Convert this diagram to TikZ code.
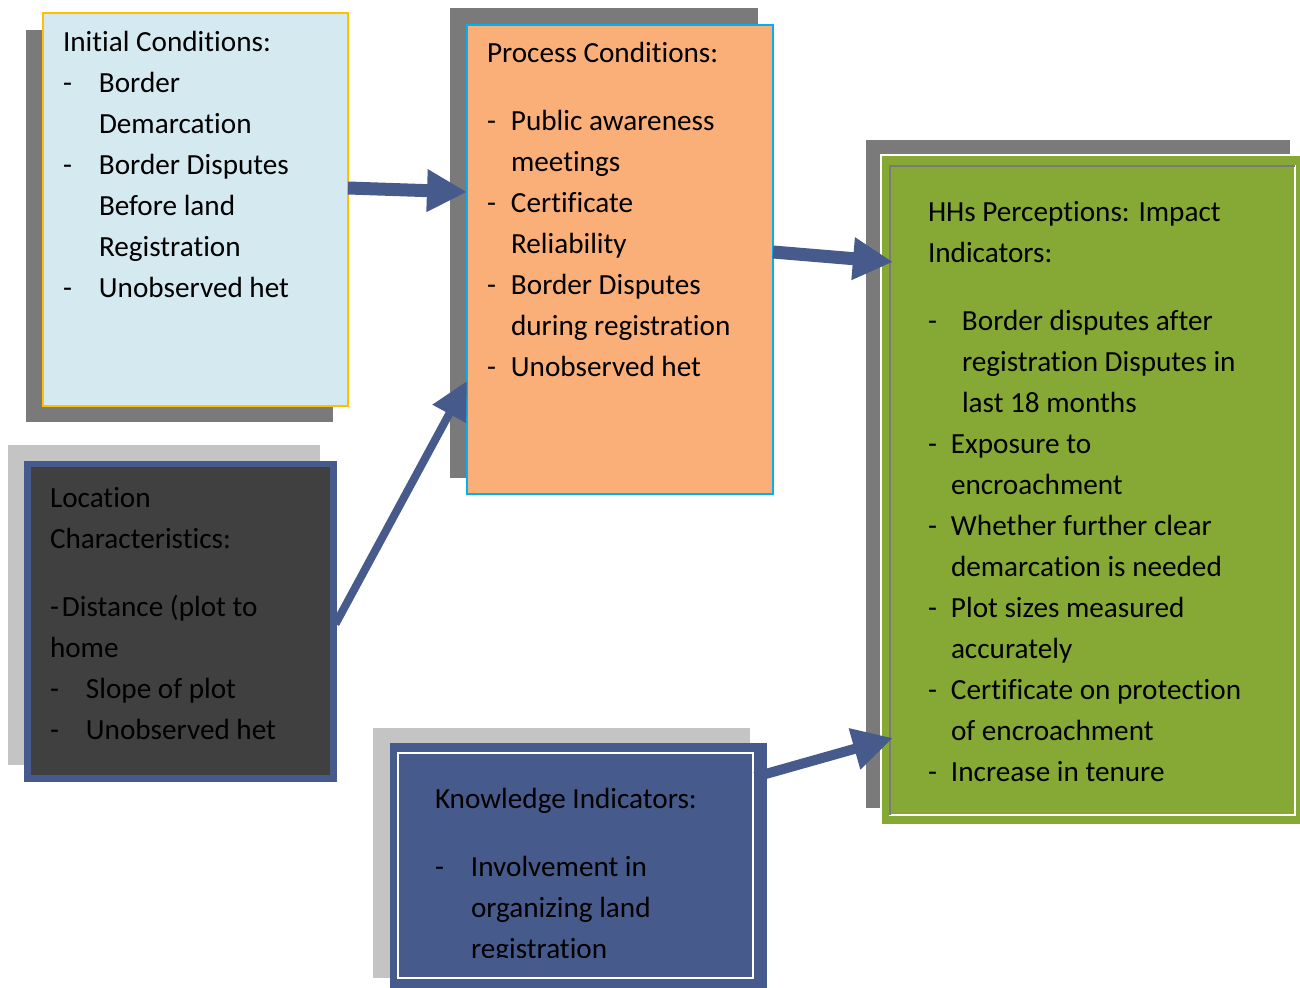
\documentclass[tikz,border=0pt]{standalone}
\usepackage{fontspec}
\setmainfont{Carlito}[Ligatures={NoCommon,NoRequired,NoContextual}]
\usetikzlibrary{arrows.meta,calc}
\newlength\px \setlength\px{0.75pt}
\definecolor{navy}{HTML}{475A8C}
\definecolor{shdark}{HTML}{7A7A7A}
\definecolor{shlight}{HTML}{C4C4C4}
\definecolor{lblue}{HTML}{D4EAF0}
\definecolor{peach}{HTML}{FAAE78}
\definecolor{hhgreen}{HTML}{85A934}
\definecolor{dgray}{HTML}{404040}
\definecolor{ocborder}{HTML}{FFC000}
\definecolor{cyborder}{HTML}{00B0F0}
\newcommand\bx[1]{\makebox[#1\px][l]{-}}
\begin{document}
\begin{tikzpicture}[x=0.75pt,y=-0.75pt,
  panel/.style={rectangle, inner sep=0pt, outer sep=0pt, anchor=north west},
  txt/.style={anchor=base west, inner sep=0pt, outer sep=0pt, font=\fontsize{21.9}{30.75}\selectfont, text=black},
  link/.style={draw=navy, fill=navy}]
\useasboundingbox (0,0) rectangle (1300,988);
\fill[white] (0,0) rectangle (1300,988);

% Initial conditions
\node[panel, fill=shdark, minimum width=307\px, minimum height=392\px] (icsh) at (26,30) {};
\node[panel, fill=lblue, draw=ocborder, line width=1.5pt, minimum width=305\px, minimum height=393\px] (ic) at (43,13) {};
\node[txt] (ict) at (63,52) {\parbox[t]{400\px}{Initial Conditions:\\
\bx{36}Border\\
\hspace*{36\px}Demarcation\\
\bx{36}Border Disputes\\
\hspace*{36\px}Before land\\
\hspace*{36\px}Registration\\
\bx{36}Unobserved het}};

% Process conditions
\node[panel, fill=shdark, minimum width=308\px, minimum height=470\px] (pcsh) at (450,8) {};
\node[panel, fill=peach, draw=cyborder, line width=1.5pt, minimum width=306\px, minimum height=469\px] (pc) at (467,25) {};
\node[txt] (pct) at (487,63) {\parbox[t]{400\px}{Process Conditions:\\[20.25pt]
\bx{24}Public awareness\\
\hspace*{24\px}meetings\\
\bx{24}Certificate\\
\hspace*{24\px}Reliability\\
\bx{24}Border Disputes\\
\hspace*{24\px}during registration\\
\bx{24}Unobserved het}};

% Location characteristics
\node[panel, fill=shlight, minimum width=312\px, minimum height=320\px] (lcsh) at (8,445) {};
\node[panel, fill=dgray, draw=navy, line width=4.9pt, minimum width=306\px, minimum height=314.5\px] (lc) at (27.5,464) {};
\node[txt] (lct) at (50,507) {\parbox[t]{400\px}{Location\\
Characteristics:\\[20.25pt]
\makebox[12\px][l]{-}Distance (plot to\\
home\\
\bx{36}Slope of plot\\
\bx{36}Unobserved het}};

% Knowledge indicators
\node[panel, fill=shlight, minimum width=377\px, minimum height=250\px] (kish) at (373,728) {};
\node[panel, fill=navy, minimum width=377\px, minimum height=245\px] (ki) at (390,743) {};
\node[panel, draw=white, line width=1.5pt, minimum width=355\px, minimum height=225\px] (kiin) at (398,753) {};
\begin{scope}
\clip (390,743) rectangle (767,957);
\node[txt] (kit) at (435,808) {\parbox[t]{400\px}{Knowledge Indicators:\\[20.25pt]
\bx{36}Involvement in\\
\hspace*{36\px}organizing land\\
\hspace*{36\px}registration}};
\end{scope}

% HHs perceptions
\node[panel, fill=shdark, minimum width=424\px, minimum height=668\px] (hhsh) at (866,140) {};
\node[panel, fill=hhgreen, draw=white, line width=1.5pt, minimum width=420\px, minimum height=670\px] (hh) at (881,155) {};
\node[panel, draw=white, line width=1.5pt, minimum width=405\px, minimum height=649\px] (hhin) at (890,166) {};
\draw[shdark, line width=1.5pt] (hhin.south west) -- (hhin.north west) -- (hhin.north east);
\node[txt] (hht) at (928,222) {\parbox[t]{500\px}{HHs Perceptions: Impact\\
Indicators:\\[20.25pt]
\bx{34}Border disputes after\\
\hspace*{34\px}registration Disputes in\\
\hspace*{34\px}last 18 months\\
\bx{23}Exposure to\\
\hspace*{23\px}encroachment\\
\bx{23}Whether further clear\\
\hspace*{23\px}demarcation is needed\\
\bx{23}Plot sizes measured\\
\hspace*{23\px}accurately\\
\bx{23}Certificate on protection\\
\hspace*{23\px}of encroachment\\
\bx{23}Increase in tenure}};

% Arrows
\draw[link, line width=9.75pt, -{Triangle[length=30pt,width=30pt]}] ($(ic.north east)+(0,175)$) -- ($(pc.north west)+(0,167)$);
\draw[link, line width=6pt, -{Triangle[length=28pt,width=27pt]}] ($(lc.north east)+(2,160)$) -- ($(pc.north west)+(0,356)$);
\draw[link, line width=9.75pt, -{Triangle[length=30pt,width=30pt]}] ($(pc.north east)+(0,227)$) -- ($(hhin.north west)+(3,96)$);
\draw[link, line width=7.5pt, -{Triangle[length=30pt,width=30pt]}] ($(kiin.north east)+(2,24)$) -- ($(hhin.north west)+(3,572)$);
\end{tikzpicture}
\end{document}
